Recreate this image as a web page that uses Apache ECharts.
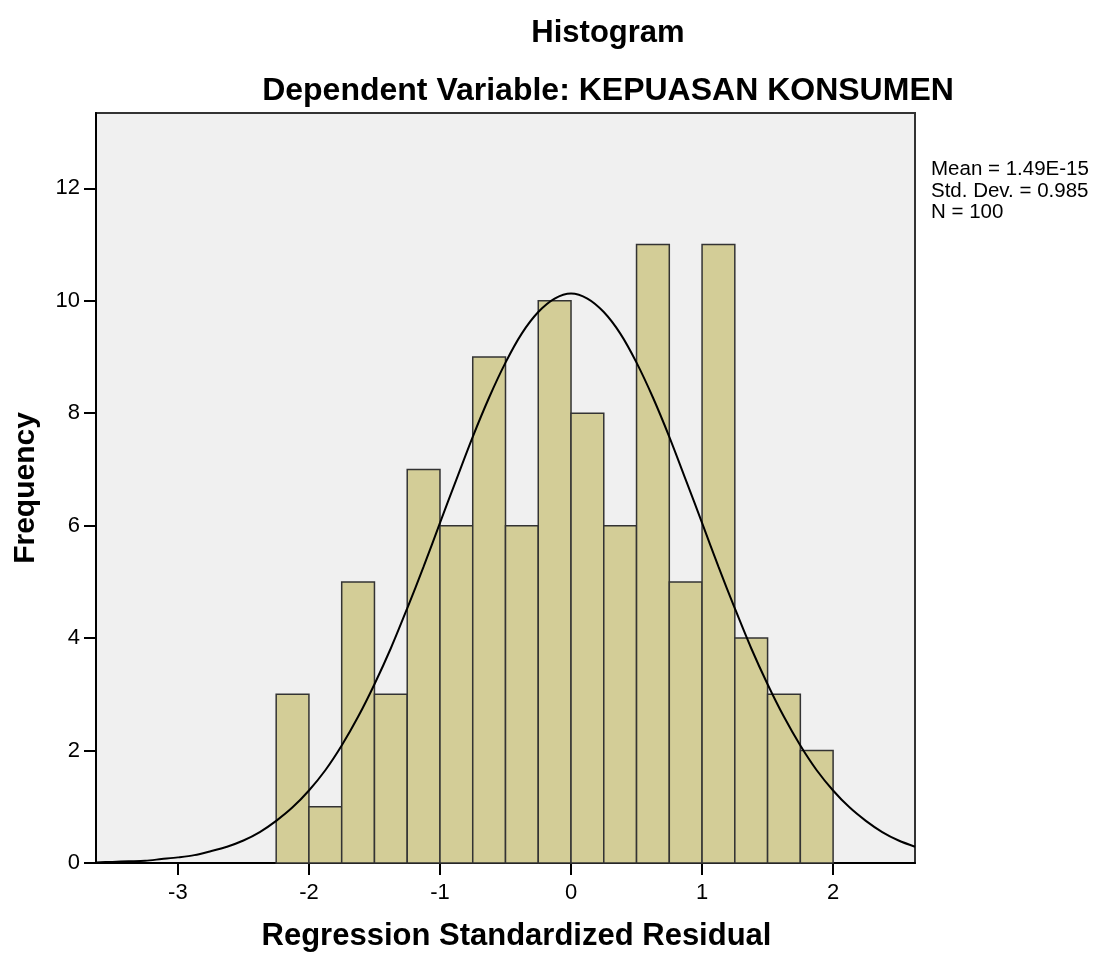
<!DOCTYPE html>
<html>
<head>
<meta charset="utf-8">
<title>Histogram</title>
<script src="https://cdn.jsdelivr.net/npm/echarts@6/dist/echarts.min.js"></script>
<style>
  html, body { margin: 0; padding: 0; background: #fff; }
  #chart { width: 1099px; height: 953px; }
</style>
</head>
<body>
<div id="chart"></div>
<script>
// histogram bins (lower edge, upper edge) and counts
const binStart = [-2.25, -2, -1.75, -1.5, -1.25, -1, -0.75, -0.5, -0.25, 0, 0.25, 0.5, 0.75, 1, 1.25, 1.5, 1.75]
const binEnd = [-2, -1.75, -1.5, -1.25, -1, -0.75, -0.5, -0.25, 0, 0.25, 0.5, 0.75, 1, 1.25, 1.5, 1.75, 2]
const counts = [3, 1, 5, 3, 7, 6, 9, 6, 10, 8, 6, 11, 5, 11, 4, 3, 2]

// normal curve
const curveX = [-3.625, -3.5, -3.375, -3.25, -3.125, -3, -2.875, -2.75, -2.625, -2.5, -2.375, -2.25, -2.125,
  -2, -1.875, -1.75, -1.625, -1.5, -1.375, -1.25, -1.125, -1, -0.875, -0.75, -0.625, -0.5, -0.375, -0.25, -0.125,
  0, 0.125, 0.25, 0.375, 0.5, 0.625, 0.75, 0.875, 1, 1.125, 1.25, 1.375, 1.5, 1.625, 1.75, 1.875,
  2, 2.125, 2.25, 2.375, 2.5, 2.625]
const curveY = [0.01, 0.02, 0.03, 0.04, 0.07, 0.10, 0.14, 0.21, 0.29, 0.40, 0.55, 0.75, 0.99,
  1.29, 1.65, 2.09, 2.60, 3.18, 3.82, 4.53, 5.27, 6.05, 6.82, 7.58, 8.28, 8.90, 9.42, 9.80, 10.04,
  10.13, 10.04, 9.80, 9.42, 8.90, 8.28, 7.58, 6.82, 6.05, 5.27, 4.53, 3.82, 3.18, 2.60, 2.09, 1.65,
  1.29, 0.99, 0.75, 0.55, 0.40, 0.29]

const xTicks = [-3, -2, -1, 0, 1, 2]
const yTicks = [0, 2, 4, 6, 8, 10, 12]
const statsLines = ['Mean = 1.49E-15', 'Std. Dev. = 0.985', 'N = 100']

const font = '"Liberation Sans", Arial, sans-serif'

const chart = echarts.init(document.getElementById('chart'), null, { renderer: 'canvas' })

chart.setOption({
  backgroundColor: '#ffffff',
  animation: false,
  title: [
    {
      text: 'Histogram',
      left: 603,
      top: 13,
      textAlign: 'center',
      textStyle: { fontFamily: font, fontSize: 31, fontWeight: 'bold', color: '#000' }
    },
    {
      text: 'Dependent Variable: KEPUASAN KONSUMEN',
      left: 603,
      top: 70,
      textAlign: 'center',
      textStyle: { fontFamily: font, fontSize: 32, fontWeight: 'bold', color: '#000' }
    }
  ],
  graphic: [{
    type: 'text',
    left: 931,
    top: 159,
    style: {
      text: statsLines.join('\n'),
      font: '20.5px ' + font,
      lineHeight: 21.5,
      fill: '#000'
    }
  }],
  grid: {
    left: 96,
    right: 184,
    top: 113,
    bottom: 90,
    outerBoundsMode: 'none',
    show: true,
    backgroundColor: '#f0f0f0',
    borderColor: '#333',
    borderWidth: 2
  },
  xAxis: {
    type: 'value',
    min: -3.625,
    max: 2.625,
    name: 'Regression Standardized Residual',
    nameLocation: 'middle',
    nameGap: 58,
    nameTextStyle: { fontFamily: font, fontSize: 31, fontWeight: 'bold', color: '#000', padding: [0, 0, 0, 22] },
    splitLine: { show: false },
    axisLine: { onZero: false, lineStyle: { color: '#000', width: 2 } },
    axisTick: { customValues: xTicks, length: 12, lineStyle: { color: '#000', width: 2 } },
    axisLabel: { customValues: xTicks, margin: 19, fontFamily: font, fontSize: 22, color: '#000' }
  },
  yAxis: {
    type: 'value',
    min: 0,
    max: 13.34,
    name: 'Frequency',
    nameLocation: 'middle',
    nameRotate: 90,
    nameGap: 55,
    nameTextStyle: { fontFamily: font, fontSize: 30, fontWeight: 'bold', color: '#000' },
    splitLine: { show: false },
    axisLine: { show: true, onZero: false, lineStyle: { color: '#000', width: 2 } },
    axisTick: { show: true, customValues: yTicks, length: 12, lineStyle: { color: '#000', width: 2 } },
    axisLabel: { customValues: yTicks, margin: 16, fontFamily: font, fontSize: 22, color: '#000' }
  },
  series: [
    {
      type: 'custom',
      data: counts.map((c, i) => [binStart[i], binEnd[i], c]),
      renderItem: function(params, api) {
        const p0 = api.coord([api.value(0), 0])
        const p1 = api.coord([api.value(1), api.value(2)])
        return {
          type: 'rect',
          shape: { x: p0[0], y: p1[1], width: p1[0] - p0[0], height: p0[1] - p1[1] },
          style: { fill: '#d3cd97', stroke: '#333', lineWidth: 1.5 }
        }
      },
      encode: { x: [0, 1], y: 2 },
      z: 2
    },
    {
      type: 'line',
      data: curveX.map((x, i) => [x, curveY[i]]),
      smooth: 0.3,
      symbol: 'none',
      lineStyle: { color: '#000', width: 2 },
      z: 3
    }
  ]
})
</script>
</body>
</html>
